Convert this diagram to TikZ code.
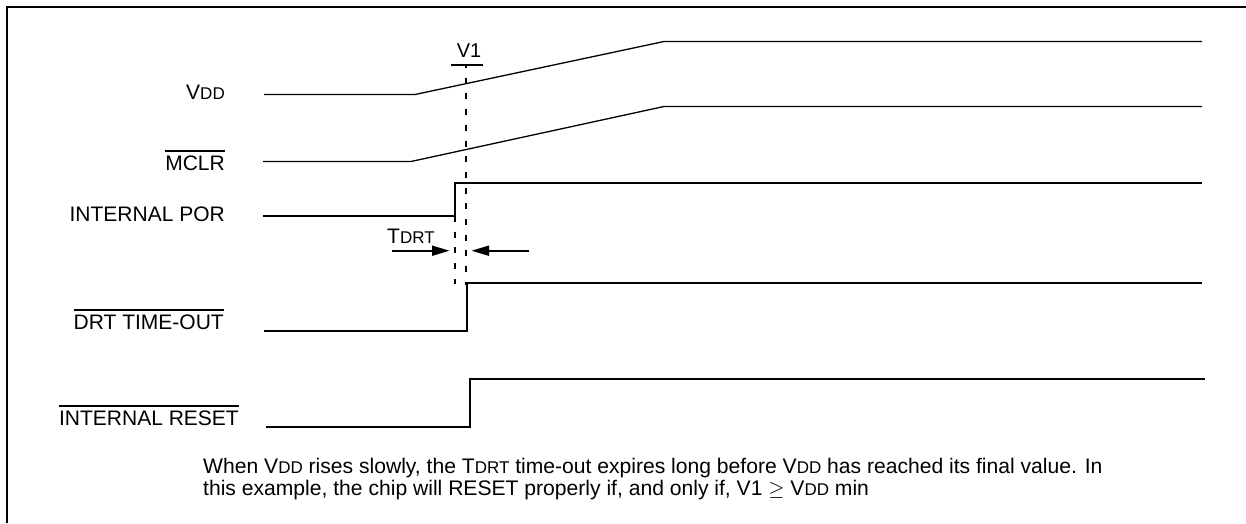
\documentclass[tikz,border=0pt]{standalone}
\usepackage{fontspec}
\setmainfont{Liberation Sans}
\usetikzlibrary{arrows.meta}
\newcommand{\sm}[1]{{\fontsize{17pt}{18pt}\selectfont #1}}
\newsavebox{\ovbox}
\newcommand{\ov}[1]{\sbox{\ovbox}{#1}\rlap{\raisebox{18.3pt}{\rule{\wd\ovbox}{1.9pt}}}\usebox{\ovbox}}
\begin{document}
\begin{tikzpicture}[x=1pt,y=-1pt,
  sig/.style={line width=1.7pt,line join=miter},
  thin sig/.style={line width=1.3pt,line join=miter},
  guide/.style={line width=1.7pt,dash pattern=on 6pt off 9.7pt},
  lab/.style={anchor=base east,inner sep=0pt,font=\fontsize{21pt}{24pt}\selectfont},
  note/.style={anchor=base west,inner sep=0pt,font=\fontsize{21.1pt}{22pt}\selectfont},
  arr/.style={line width=1.7pt,-{Triangle[length=17.5pt,width=10pt]}}]
\useasboundingbox (0,0) rectangle (1246,523);
\draw[line width=2pt] (7,523) -- (7,7) -- (1246,7);
% signals
\coordinate (v0) at (264,94.5); \coordinate (v1) at (415,94.5); \coordinate (v2) at (664,41.5); \coordinate (v3) at (1202,41.5);
\draw[thin sig] (v0) -- (v1) -- (v2) -- (v3);
\coordinate (m0) at (263,161.5); \coordinate (m1) at (411,161.5); \coordinate (m2) at (664,106.5); \coordinate (m3) at (1202,106.5);
\draw[thin sig] (m0) -- (m1) -- (m2) -- (m3);
\coordinate (p0) at (263,216); \coordinate (p1) at (455,216); \coordinate (p2) at (455,183); \coordinate (p3) at (1202,183);
\draw[sig] (p0) -- (p1) -- (p2) -- (p3);
\coordinate (d0) at (264,331); \coordinate (d1) at (467,331); \coordinate (d2) at (467,283); \coordinate (d3) at (1202,283);
\draw[sig] (d0) -- (d1) -- (d2) -- (d3);
\coordinate (r0) at (266,427); \coordinate (r1) at (470,427); \coordinate (r2) at (470,379); \coordinate (r3) at (1205,379);
\draw[sig] (r0) -- (r1) -- (r2) -- (r3);
% V1 marker
\coordinate (t0) at (451,64.5); \coordinate (t1) at (483,64.5); \coordinate (g0) at (466,66); \coordinate (g1) at (466,285);
\coordinate (h0) at (455,216); \coordinate (h1) at (455,284);
\draw[line width=2pt] (t0) -- (t1);
\draw[guide,dash phase=4pt] (g0) -- (g1);
\draw[guide] (h0) -- (h1);
\node[lab,anchor=base,font=\fontsize{20pt}{24pt}\selectfont] (v1lab) at (469,57.5) {V1};
% TDRT arrows
\coordinate (a0) at (392,250.7); \coordinate (a1) at (449.5,250.7); \coordinate (b0) at (529,250.7); \coordinate (b1) at (471.5,250.7);
\draw[arr] (a0) -- (a1);
\draw[arr] (b0) -- (b1);
\node[lab,anchor=base west] (tdrt) at (387,243.3) {T\sm{DRT}};
% labels
\node[lab] (lvdd) at (225,99) {V\sm{DD}};
\node[lab] (lmclr) at (225,170) {\ov{MCLR}};
\node[lab] (lpor) at (225,221) {INTERNAL POR};
\node[lab] (ldrt) at (224,329) {\ov{DRT TIME-OUT}};
\node[lab] (lrst) at (239,425) {\ov{INTERNAL RESET}};
% note
\node[note] (n1) at (203,473.3) {When V\sm{DD} rises slowly, the T\sm{DRT} time-out expires long before V\sm{DD} has reached its final value. In};
\node[note] (n2) at (203,495) {this example, the chip will RESET properly if, and only if, V1 $\geq$ V\sm{DD} min};
\end{tikzpicture}
\end{document}
